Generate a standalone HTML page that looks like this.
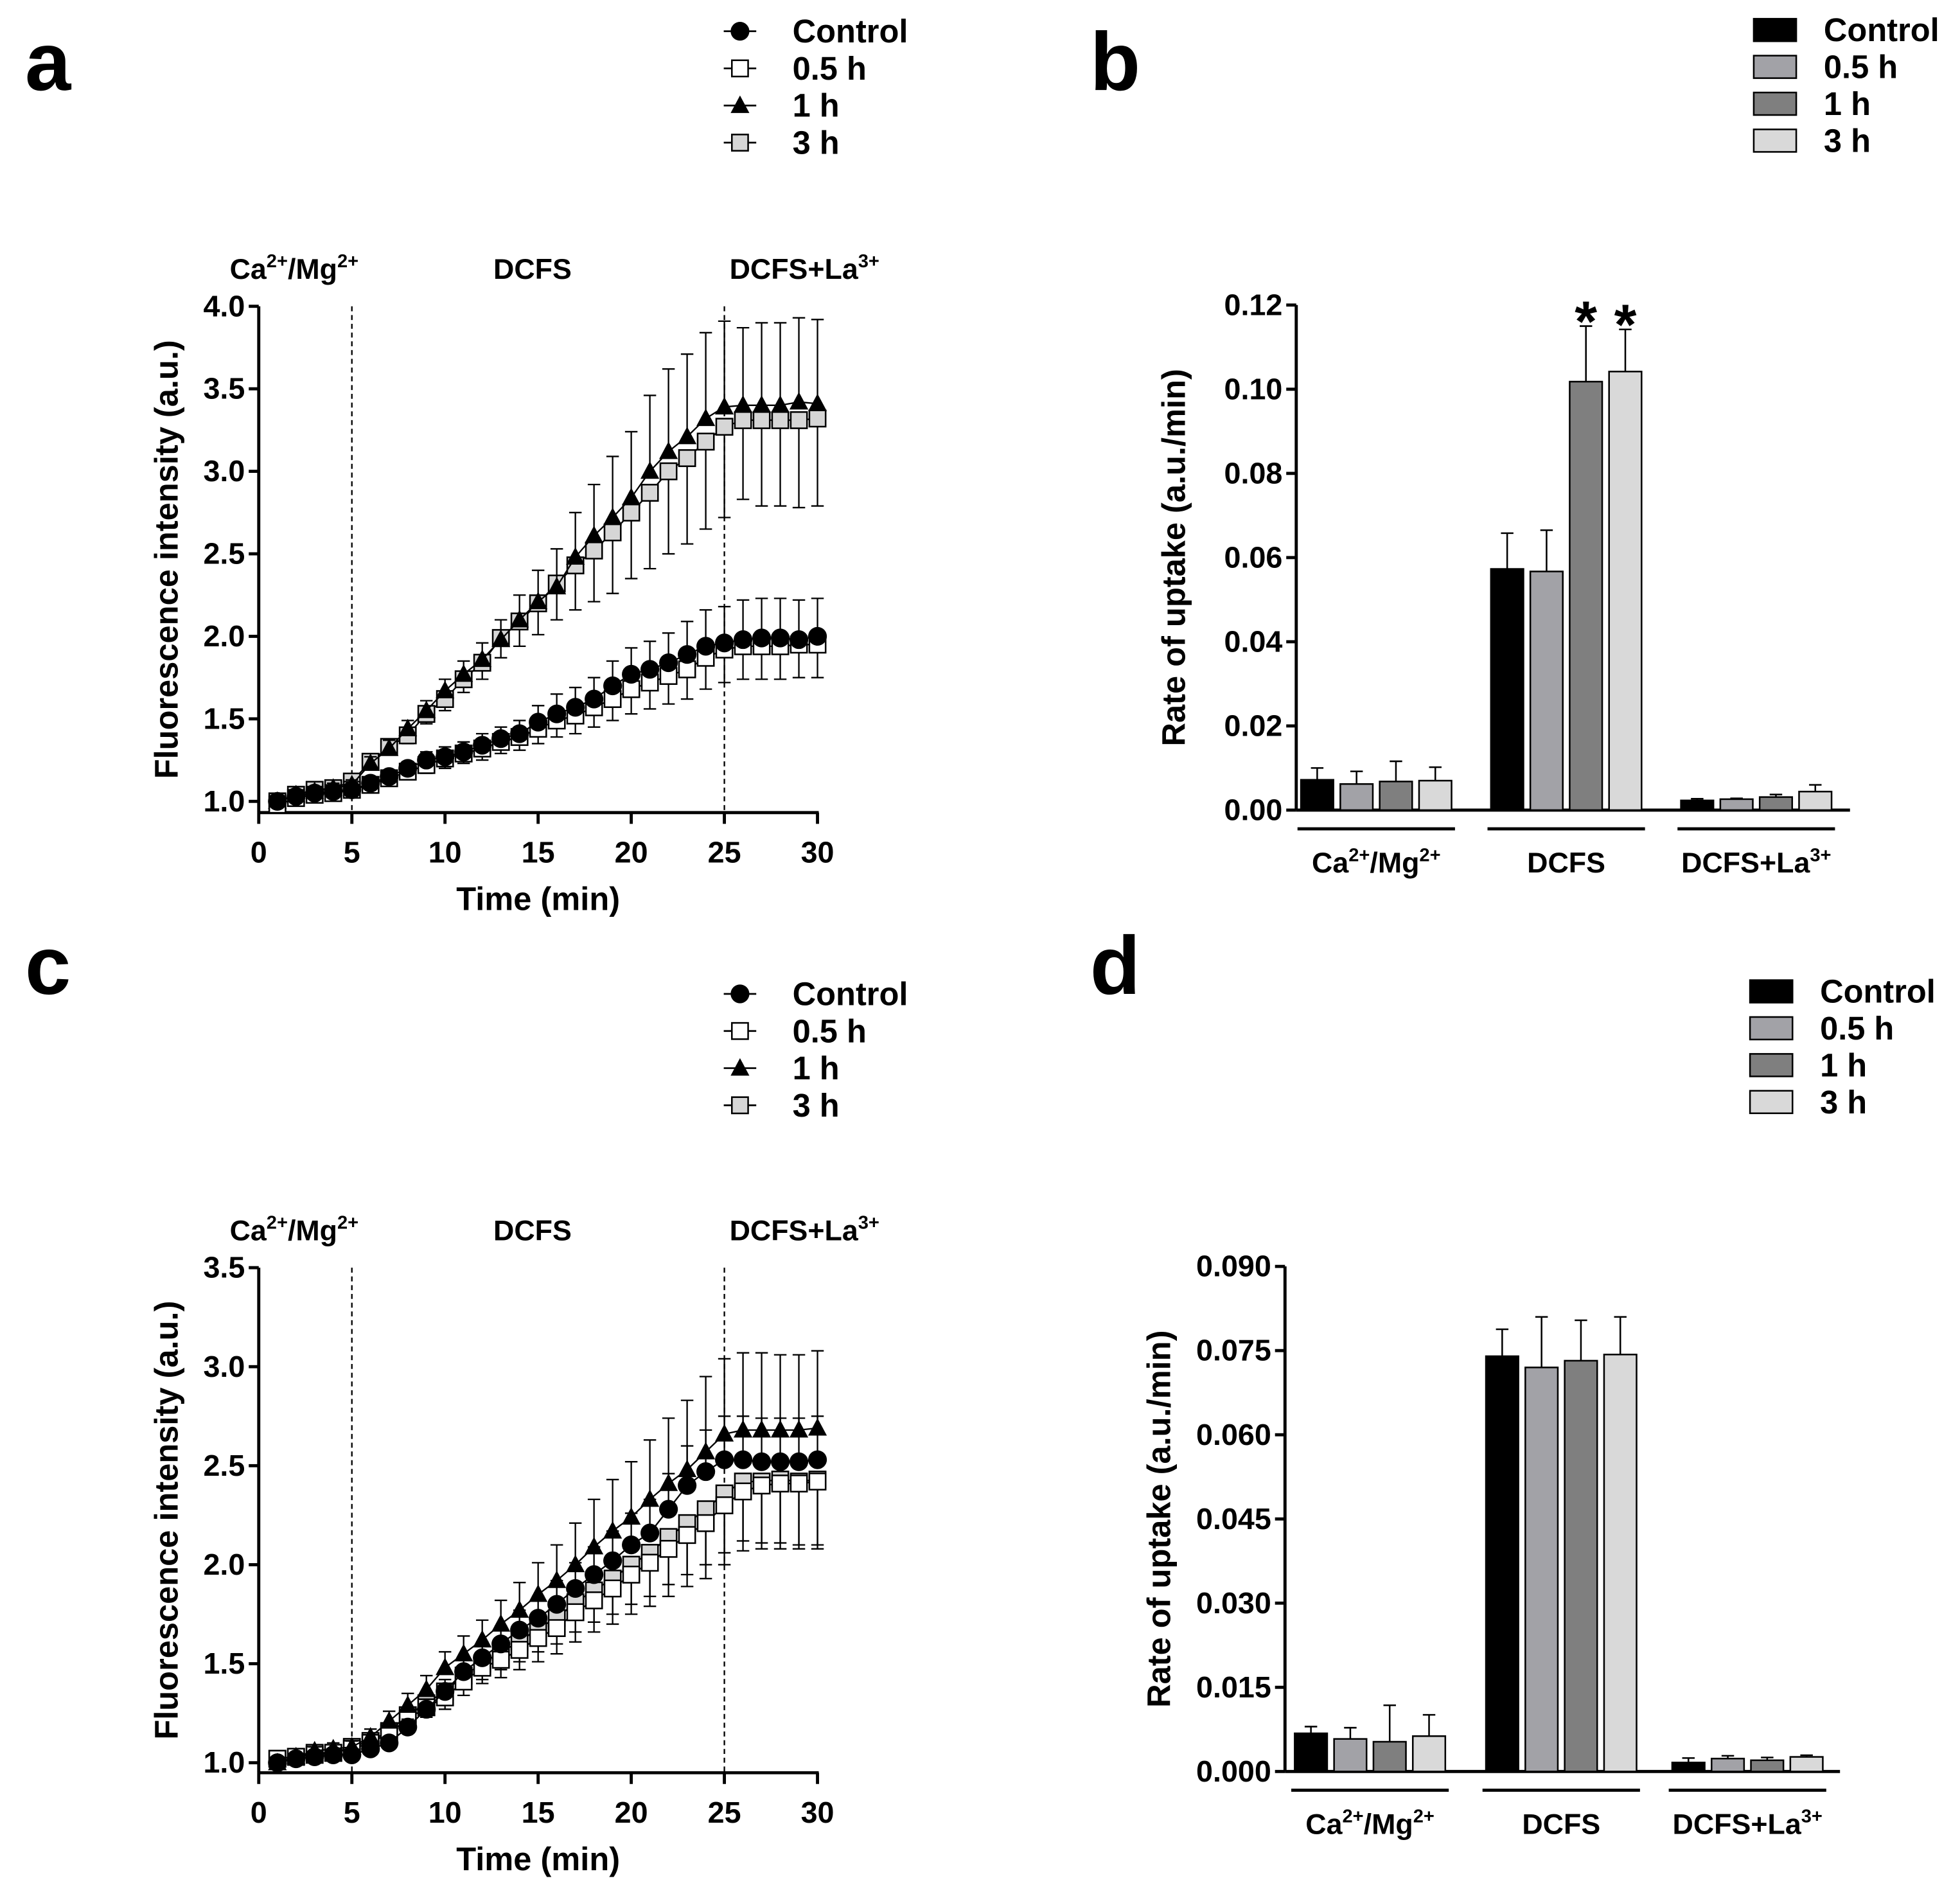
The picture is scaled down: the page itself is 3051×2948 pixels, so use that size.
<!DOCTYPE html>
<html><head><meta charset="utf-8">
<style>
html,body{margin:0;padding:0;background:#fff;}
svg{display:block;font-family:"Liberation Sans",Arial,sans-serif;font-weight:bold;}
</style></head>
<body>
<svg id="fig" xmlns="http://www.w3.org/2000/svg" width="3051" height="2948" viewBox="0 0 1568 1515" preserveAspectRatio="none"></svg>
<script>
// ---- Panel a data ----
const timeA = [1,2,3,4,5,6,7,8,9,10,11,12,13,14,15,16,17,18,19,20,21,22,23,24,25,26,27,28,29,30];
const aControl = [1.0,1.03,1.05,1.06,1.07,1.11,1.15,1.20,1.25,1.27,1.30,1.34,1.38,1.41,1.48,1.53,1.57,1.62,1.70,1.77,1.80,1.84,1.89,1.94,1.96,1.98,1.99,1.99,1.98,2.00];
const aControlErr = [0.01,0.01,0.02,0.02,0.02,0.03,0.04,0.04,0.05,0.06,0.06,0.07,0.07,0.08,0.10,0.12,0.12,0.13,0.15,0.16,0.17,0.18,0.20,0.22,0.22,0.24,0.24,0.24,0.24,0.23];
const a05 = [0.98,1.02,1.04,1.05,1.07,1.10,1.14,1.18,1.22,1.26,1.29,1.32,1.36,1.39,1.44,1.49,1.52,1.57,1.62,1.68,1.72,1.76,1.80,1.87,1.92,1.94,1.94,1.94,1.95,1.95];
const a05Err = [0.01,0.01,0.02,0.02,0.02,0.03,0.04,0.04,0.05,0.06,0.06,0.07,0.07,0.08,0.09,0.10,0.11,0.12,0.13,0.15,0.16,0.17,0.18,0.19,0.20,0.20,0.20,0.20,0.20,0.20];
const a1h = [1.0,1.04,1.06,1.08,1.10,1.23,1.32,1.44,1.55,1.67,1.77,1.86,1.98,2.10,2.21,2.30,2.48,2.61,2.72,2.84,3.00,3.12,3.21,3.32,3.39,3.40,3.40,3.40,3.42,3.41];
const a1hErr = [0.01,0.02,0.02,0.03,0.03,0.04,0.05,0.05,0.06,0.07,0.08,0.10,0.12,0.15,0.19,0.23,0.27,0.31,0.37,0.40,0.46,0.50,0.50,0.52,0.52,0.47,0.50,0.50,0.51,0.51];
const a3h = [1.0,1.04,1.07,1.08,1.12,1.24,1.33,1.40,1.53,1.62,1.74,1.84,1.99,2.09,2.20,2.32,2.43,2.52,2.63,2.75,2.87,3.00,3.08,3.18,3.27,3.31,3.31,3.31,3.31,3.32];
const a3hErr = [0.01,0.02,0.02,0.03,0.03,0.04,0.05,0.05,0.06,0.07,0.08,0.10,0.12,0.15,0.19,0.22,0.27,0.31,0.37,0.40,0.46,0.50,0.52,0.53,0.55,0.48,0.52,0.52,0.53,0.53];
const ticksYA = [1.0,1.5,2.0,2.5,3.0,3.5,4.0];
const ticksX = [0,5,10,15,20,25,30];

// ---- Panel c data ----
const cControl = [1.0,1.02,1.03,1.04,1.04,1.07,1.10,1.18,1.27,1.36,1.46,1.53,1.60,1.67,1.73,1.80,1.88,1.95,2.02,2.10,2.16,2.28,2.40,2.47,2.53,2.53,2.52,2.52,2.52,2.53];
const cControlErr = [0.01,0.01,0.02,0.02,0.02,0.03,0.03,0.04,0.05,0.06,0.07,0.08,0.09,0.10,0.11,0.12,0.13,0.14,0.15,0.16,0.17,0.18,0.20,0.21,0.22,0.22,0.22,0.22,0.22,0.22];
const c05 = [1.02,1.03,1.04,1.05,1.07,1.10,1.15,1.22,1.28,1.33,1.41,1.48,1.52,1.57,1.63,1.68,1.76,1.82,1.88,1.95,2.01,2.08,2.15,2.21,2.30,2.37,2.40,2.41,2.41,2.42];
const c05Err = [0.01,0.01,0.02,0.02,0.02,0.03,0.04,0.05,0.05,0.06,0.07,0.08,0.09,0.10,0.12,0.13,0.15,0.16,0.18,0.20,0.22,0.24,0.26,0.28,0.30,0.30,0.32,0.33,0.33,0.34];
const c1h = [1.0,1.03,1.06,1.07,1.08,1.13,1.21,1.29,1.37,1.48,1.55,1.62,1.70,1.77,1.85,1.92,2.00,2.09,2.17,2.24,2.33,2.41,2.48,2.57,2.66,2.68,2.68,2.68,2.68,2.69];
const c1hErr = [0.01,0.02,0.02,0.03,0.03,0.04,0.05,0.06,0.07,0.08,0.09,0.10,0.12,0.14,0.16,0.18,0.21,0.24,0.26,0.28,0.30,0.33,0.35,0.38,0.38,0.39,0.39,0.38,0.38,0.39];
const c3h = [1.02,1.03,1.05,1.05,1.08,1.11,1.16,1.24,1.30,1.36,1.44,1.50,1.56,1.61,1.68,1.73,1.81,1.87,1.93,2.00,2.06,2.14,2.21,2.28,2.36,2.42,2.42,2.43,2.42,2.43];
const c3hErr = [0.01,0.01,0.02,0.02,0.02,0.03,0.04,0.05,0.05,0.06,0.07,0.08,0.09,0.10,0.12,0.13,0.15,0.16,0.18,0.20,0.22,0.24,0.26,0.28,0.30,0.30,0.31,0.32,0.32,0.33];
const ticksYC = [1.0,1.5,2.0,2.5,3.0,3.5];

// ---- Panel b data ----
const groupLabels = ["Ca2+/Mg2+","DCFS","DCFS+La3+"];
const seriesNames = ["Control","0.5 h","1 h","3 h"];
const bControl = [0.0072,0.0573,0.0023];
const b05 = [0.0062,0.0567,0.0026];
const b1h = [0.0068,0.1018,0.0031];
const b3h = [0.0070,0.1042,0.0044];
const bControlErr = [0.0028,0.0085,0.0004];
const b05Err = [0.0030,0.0098,0.0002];
const b1hErr = [0.0048,0.0132,0.0006];
const b3hErr = [0.0032,0.0100,0.0016];
const ticksYB = [0,0.02,0.04,0.06,0.08,0.10,0.12];
const ticksYBLabels = ["0.00","0.02","0.04","0.06","0.08","0.10","0.12"];

// ---- Panel d data ----
const dControl = [0.0068,0.0740,0.0016];
const d05 = [0.0058,0.0720,0.0023];
const d1h = [0.0053,0.0732,0.0020];
const d3h = [0.0063,0.0743,0.0026];
const dControlErr = [0.0012,0.0048,0.0008];
const d05Err = [0.0020,0.0090,0.0005];
const d1hErr = [0.0065,0.0072,0.0005];
const d3hErr = [0.0038,0.0067,0.0003];
const ticksYD = [0,0.015,0.030,0.045,0.060,0.075,0.090];
const ticksYDLabels = ["0.000","0.015","0.030","0.045","0.060","0.075","0.090"];

const NS = "http://www.w3.org/2000/svg";
const fig = document.getElementById('fig');
const TICK_FS = 24, TITLE_FS = 26, PHASE_FS = 23, LEG_FS = 26;
function el(tag, attrs, parent){
  const e = document.createElementNS(NS, tag);
  for (const k in attrs) e.setAttribute(k, attrs[k]);
  (parent||fig).appendChild(e);
  return e;
}
function txt(x,y,s,size,anchor,parent){
  const t = el('text',{x:x,y:y,'font-size':size,'text-anchor':anchor||'middle',fill:'#000'},parent);
  t.textContent = s; return t;
}
function supText(x,y,parts,size,anchor,parent){
  const t = el('text',{x:x,y:y,'font-size':size,'text-anchor':anchor||'middle',fill:'#000'},parent);
  parts.forEach(p=>{
    const ts = document.createElementNS(NS,'tspan');
    ts.textContent = p[0];
    if (p[1]) { ts.setAttribute('font-size', size*0.65); ts.setAttribute('dy', -size*0.4); }
    else if (t.childNodes.length) { ts.setAttribute('dy', size*0.4); }
    t.appendChild(ts);
  });
  return t;
}
function condLabel(i,x,y,size,parent){
  if (i===0) return supText(x,y,[["Ca",0],["2+",1],["/Mg",0],["2+",1]],size,'middle',parent);
  if (i===1) return txt(x,y,"DCFS",size,'middle',parent);
  return supText(x,y,[["DCFS+La",0],["3+",1]],size,'middle',parent);
}
function marker(kind, x, y, g){
  let m;
  if (kind==='circle') m = el('circle',{cx:x,cy:y,r:7.5,fill:'#000'},g);
  else if (kind==='tri') m = el('polygon',{points:`${x},${y-8} ${x-7.5},${y+6} ${x+7.5},${y+6}`,fill:'#000'},g);
  else m = el('rect',{x:x-6.5,y:y-6.5,width:13,height:13,fill:kind==='sqw'?'#fff':'#d6d6d6',stroke:'#000','stroke-width':1.3},g);
  return m;
}

function lineChart(opt){
  const g = el('g',{});
  
  
  const X = v => opt.x0 + (v-0)/(30-0)*(opt.x1-opt.x0);
  const Y = v => opt.yb - (v-opt.ymin)/(opt.ymax-opt.ymin)*(opt.yb-opt.yt);
  const ya = el('line',{x1:opt.x0,y1:Y(opt.ymax),x2:opt.x0,y2:opt.xaxisY,stroke:'#000','stroke-width':2.5},g);
   
  const xa = el('line',{x1:opt.x0-1,y1:opt.xaxisY,x2:X(30)+1,y2:opt.xaxisY,stroke:'#000','stroke-width':2.5},g);
   
  opt.yticks.forEach(v=>{
    el('line',{x1:opt.x0-8,y1:Y(v),x2:opt.x0,y2:Y(v),stroke:'#000','stroke-width':2.5},g);
    const t = txt(opt.x0-11,Y(v)+8,v.toFixed(1),TICK_FS,'end',g);
     
  });
  ticksX.forEach(v=>{
    el('line',{x1:X(v),y1:opt.xaxisY,x2:X(v),y2:opt.xaxisY+9,stroke:'#000','stroke-width':2.5},g);
    const t = txt(X(v),opt.xaxisY+40,String(v),TICK_FS,'middle',g);
     
  });
  const xt = txt((opt.x0+opt.x1)/2,opt.xaxisY+78,"Time (min)",TITLE_FS,'middle',g);
   
  const ytc = (Y(opt.ymax)+opt.xaxisY)/2;
  const yt = txt(0,0,"Fluorescence intensity (a.u.)",TITLE_FS,'middle',g);
  yt.setAttribute('transform',`translate(${opt.x0-65},${ytc}) rotate(-90)`);
   
  [5,25].forEach(v=>{
    const d = el('line',{x1:X(v),y1:Y(opt.ymax),x2:X(v),y2:opt.xaxisY,stroke:'#000','stroke-width':1.2,'stroke-dasharray':'4,3'},g);
     
  });
  const py = Y(opt.ymax)-22;
  [[X(1.9),0],[X(14.7),1],[X(29.3),2]].forEach(p=>{
    const t = condLabel(p[1],p[0],py,PHASE_FS,g);
     
  });
  opt.series.forEach(s=>{
    const sg = el('g',{},g);
     
    timeA.forEach((t,i)=>{
      const up = s.up;
      const yy = Y(s.vals[i]), ye = Y(s.vals[i] + (up?1:-1)*s.err[i]);
      el('line',{x1:X(t),y1:yy,x2:X(t),y2:ye,stroke:'#000','stroke-width':1.2},sg);
      el('line',{x1:X(t)-5,y1:ye,x2:X(t)+5,y2:ye,stroke:'#000','stroke-width':1.2},sg);
    });
    const pts = timeA.map((t,i)=>`${X(t)},${Y(s.vals[i])}`).join(' ');
    el('polyline',{points:pts,fill:'none',stroke:'#000','stroke-width':1.2},sg);
    timeA.forEach((t,i)=>{
      const m = marker(s.kind,X(t),Y(s.vals[i]),sg);
       
    });
  });
  const lg = el('g',{},g);
   
  opt.legend.forEach((l,i)=>{
    const ly = opt.legY + i*29.7;
    const eg = el('g',{},lg);
     
    el('line',{x1:opt.legX-13,y1:ly,x2:opt.legX+13,y2:ly,stroke:'#000','stroke-width':1.4},eg);
    marker(l.kind,opt.legX,ly,eg);
    txt(opt.legX+42,ly+9,l.name,LEG_FS,'start',eg);
  });
  const pl = txt(opt.letterX,opt.letterY,opt.letter,66,'start',g);
   
}

function barChart(opt){
  const g = el('g',{});
  
  
  const Y = v => opt.yb - v/opt.ymax*(opt.yb-opt.yt);
  const colors = ['#000','#a2a2a7','#7f7f7f','#d9d9d9'];
  const ya = el('line',{x1:opt.x0,y1:Y(opt.ymax),x2:opt.x0,y2:opt.yb,stroke:'#000','stroke-width':2.5},g);
   
  const xa = el('line',{x1:opt.x0,y1:opt.yb,x2:opt.x1,y2:opt.yb,stroke:'#000','stroke-width':2.5},g);
   
  opt.yticks.forEach((v,i)=>{
    el('line',{x1:opt.x0-8,y1:Y(v),x2:opt.x0,y2:Y(v),stroke:'#000','stroke-width':2.5},g);
    const t = txt(opt.x0-11,Y(v)+8,opt.ylabels[i],TICK_FS,'end',g);
     
  });
  const yt = txt(0,0,"Rate of uptake (a.u./min)",TITLE_FS,'middle',g);
  yt.setAttribute('transform',`translate(${opt.titleX},${(Y(opt.ymax)+opt.yb)/2}) rotate(-90)`);
   
  const pitch = 31.5, bw = 26;
  groupLabels.forEach((lab,gi)=>{
    const cx = opt.centers[gi];
    opt.series.forEach((s,si)=>{
      const bx = cx + (si-1.5)*pitch - bw/2;
      const v = s.vals[gi], e = s.err[gi];
      const top = Y(v);
      el('line',{x1:bx+bw/2,y1:top,x2:bx+bw/2,y2:Y(v+e),stroke:'#000','stroke-width':1.3},g);
      el('line',{x1:bx+bw/2-5,y1:Y(v+e),x2:bx+bw/2+5,y2:Y(v+e),stroke:'#000','stroke-width':1.3},g);
      const r = el('rect',{x:bx,y:top,width:bw,height:opt.yb-top,fill:colors[si],stroke:'#000','stroke-width':1.3},g);
       
    });
    const ul = el('line',{x1:cx-63,y1:opt.yb+15,x2:cx+63,y2:opt.yb+15,stroke:'#000','stroke-width':2.5},g);
     
    const t = condLabel(gi,cx,opt.yb+50,PHASE_FS,g);
     
  });
  (opt.stars||[]).forEach(si=>{
    const s = opt.series[si];
    const cx = opt.centers[1] + (si-1.5)*pitch;
    const t = txt(cx,Y(s.vals[1]+s.err[1])+12,"*",46,'middle',g);
     
  });
  const lg = el('g',{},g);
   
  seriesNames.forEach((n,i)=>{
    const ly = opt.legY + i*29.5;
    const eg = el('g',{},lg);
     
    el('rect',{x:opt.legX,y:ly-9,width:34,height:18,fill:colors[i],stroke:'#000','stroke-width':1.3},eg);
    txt(opt.legX+56,ly+9,n,LEG_FS,'start',eg);
  });
  const pl = txt(opt.letterX,opt.letterY,opt.letter,66,'start',g);
   
}

const legLine = [{name:"Control",kind:'circle'},{name:"0.5 h",kind:'sqw'},{name:"1 h",kind:'tri'},{name:"3 h",kind:'sqg'}];

lineChart({name:'panel-a-line-chart',letter:'a',letterX:20,letterY:72,x0:207,x1:654,yt:245,yb:641,ymin:1,ymax:4,xaxisY:650,yticks:ticksYA,legX:592,legY:25,legend:legLine,
  series:[
    {key:'3h',vals:a3h,err:a3hErr,kind:'sqg',up:false},
    {key:'1h',vals:a1h,err:a1hErr,kind:'tri',up:true},
    {key:'05h',vals:a05,err:a05Err,kind:'sqw',up:false},
    {key:'control',vals:aControl,err:aControlErr,kind:'circle',up:true}
  ]});
lineChart({name:'panel-c-line-chart',letter:'c',letterX:20,letterY:795,x0:207,x1:654,yt:1014,yb:1410,ymin:1,ymax:3.5,xaxisY:1418,yticks:ticksYC,legX:592,legY:795,legend:legLine,
  series:[
    {key:'3h',vals:c3h,err:c3hErr,kind:'sqg',up:false},
    {key:'05h',vals:c05,err:c05Err,kind:'sqw',up:false},
    {key:'1h',vals:c1h,err:c1hErr,kind:'tri',up:true},
    {key:'control',vals:cControl,err:cControlErr,kind:'circle',up:true}
  ]});
barChart({name:'panel-b-bar-chart',letter:'b',letterX:872,letterY:72,x0:1037,x1:1480,yt:244,yb:648,ymax:0.12,yticks:ticksYB,ylabels:ticksYBLabels,titleX:948,
  centers:[1101,1253,1405],legX:1403,legY:24,stars:[2,3],
  series:[{key:'control',vals:bControl,err:bControlErr},{key:'05h',vals:b05,err:b05Err},{key:'1h',vals:b1h,err:b1hErr},{key:'3h',vals:b3h,err:b3hErr}]});
barChart({name:'panel-d-bar-chart',letter:'d',letterX:872,letterY:795,x0:1028,x1:1472,yt:1013,yb:1417,ymax:0.09,yticks:ticksYD,ylabels:ticksYDLabels,titleX:936,
  centers:[1096,1249,1398],legX:1400,legY:793,
  series:[{key:'control',vals:dControl,err:dControlErr},{key:'05h',vals:d05,err:d05Err},{key:'1h',vals:d1h,err:d1hErr},{key:'3h',vals:d3h,err:d3hErr}]});
</script>
</body></html>
